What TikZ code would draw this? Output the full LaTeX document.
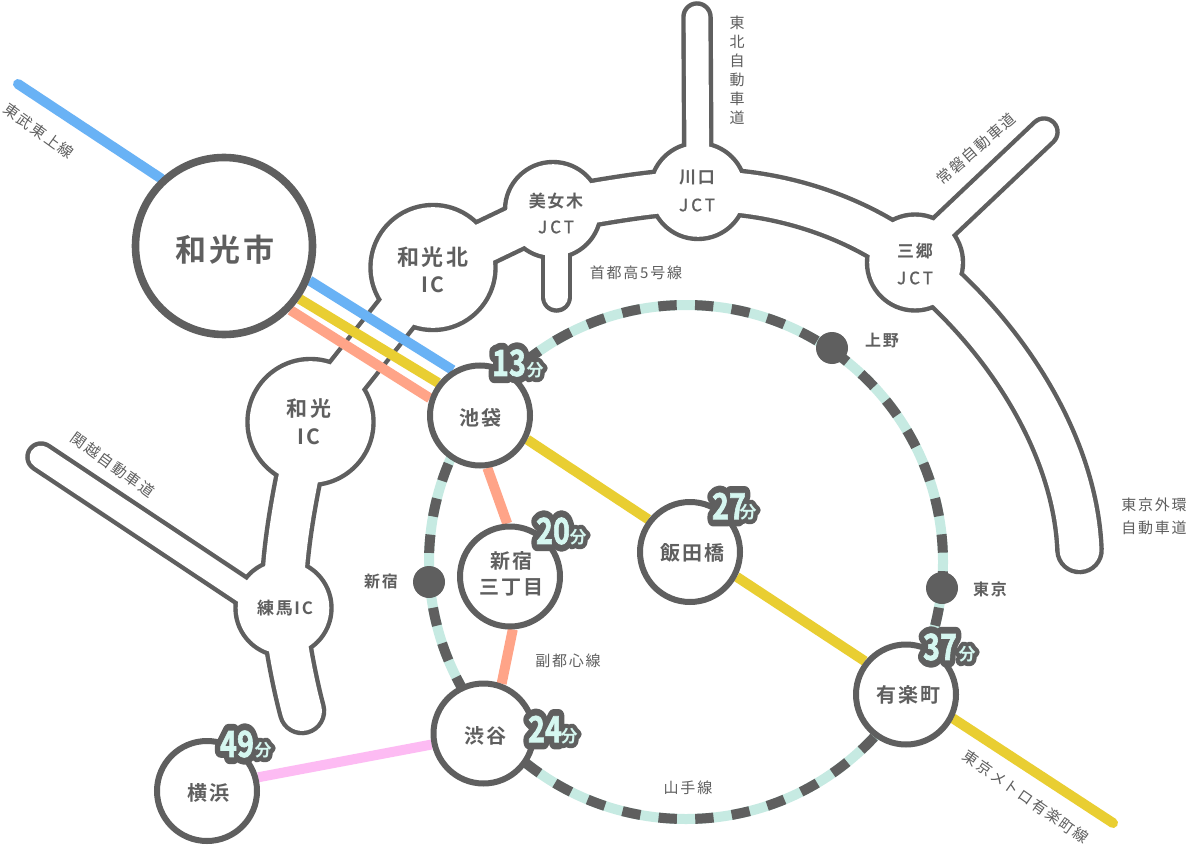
\documentclass[tikz,border=0pt]{standalone}
\usepackage{graphicx}
\usepackage{fontspec}
\setmainfont{Noto Sans CJK JP}
\newfontfamily\jpb[LetterSpace=10]{Noto Sans CJK JP Bold}
\newfontfamily\jpr[LetterSpace=12]{Noto Sans CJK JP}
\newfontfamily\jct[LetterSpace=18,FakeBold=1]{Noto Sans CJK JP}
\newfontfamily\digf[FakeBold=2]{Noto Sans CJK JP Bold}
\newfontfamily\digo[FakeBold=40]{Noto Sans CJK JP Bold}
\newfontfamily\bunf{Noto Sans CJK JP Bold}
\newfontfamily\buno[FakeBold=52]{Noto Sans CJK JP Bold}
\definecolor{dk}{HTML}{5F5F5F}
\definecolor{bl}{HTML}{69B2F5}
\definecolor{yl}{HTML}{E9CE32}
\definecolor{og}{HTML}{FFA488}
\definecolor{pk}{HTML}{FDBBF3}
\definecolor{lt}{HTML}{C6EAE2}
\definecolor{bd}{HTML}{D5F7F0}
\pgfdeclarelayer{roaddark}\pgfdeclarelayer{roadwhite}\pgfdeclarelayer{rail}
\pgfsetlayers{roaddark,roadwhite,rail,main}
\tikzset{
  stn/.style={circle,draw=dk,line width=6pt,fill=white,minimum size=100pt,inner sep=0pt},
  stnbig/.style={circle,draw=dk,line width=7.6pt,fill=white,minimum size=177pt,inner sep=0pt},
  dot/.style={circle,fill=dk,minimum size=32pt,inner sep=0pt},
  jctdisc/.style={circle,fill=white,inner sep=0pt},
  wtxt/.style={text=dk,inner sep=0pt,font=\jpb},
  lab/.style={text=dk,inner sep=0pt,font=\jpr\fontsize{15}{19}\selectfont},
  railline/.style={line width=10pt},
  rdo/.style={draw=dk,line width=48.6pt,line cap=round,line join=round},
  rdi/.style={draw=white,line width=39.8pt,line cap=round,line join=round},
  rso/.style={draw=dk,line width=31.5pt,line cap=round},
  rsi/.style={draw=white,line width=22.7pt,line cap=round},
}
\newcommand{\fs}[1]{\fontsize{#1}{#1}\selectfont}
\newcommand{\badge}[7]{%
  \node[text=dk,inner sep=0pt] (#1o) at (#2,#3) {\digo\fs{36}\pgfsetroundjoin\scalebox{.8}[1]{#6}};
  \node[text=dk,inner sep=0pt] (#1p) at (#4,#5) {\buno\fs{17}\pgfsetroundjoin #7};
  \node[text=bd,inner sep=0pt] (#1t) at (#2,#3) {\digf\fs{36}\scalebox{.8}[1]{#6}};
  \node[text=bd,inner sep=0pt] (#1u) at (#4,#5) {\bunf\fs{17}#7};
}
\begin{document}
\begin{tikzpicture}[x=1pt,y=-1pt]
\useasboundingbox (0,0) rectangle (1188,845);
\begin{pgfonlayer}{roaddark}
\fill[white] (0,0) rectangle (1188,845);
\end{pgfonlayer}
\begin{pgfonlayer}{roadwhite}
\node[jctdisc,minimum size=120.6pt] (wakokita) at (433,267.5) {};
\node[jctdisc,minimum size=91.6pt] (bijogi) at (553,210) {};
\node[jctdisc,minimum size=91.6pt] (kawaguchi) at (698,191) {};
\node[jctdisc,minimum size=91.6pt] (misato) at (915,262.5) {};
\node[jctdisc,minimum size=121.6pt] (wako) at (310.5,422) {};
\node[jctdisc,minimum size=91.6pt] (nerima) at (283.5,608) {};
\coordinate (tohokuend) at (697,17);
\coordinate (joban) at (1044,132);
\coordinate (jobanst) at (913,256);
\coordinate (gaikan) at (1079.5,550);
\coordinate (shutoend) at (556.5,297);
\coordinate (shutost) at (556.5,212);
\coordinate (kanetsu) at (41,457);
\coordinate (kanetsust) at (283,618);
\coordinate (nerimaend) at (302,711);
\path[rdi] (wako.center) -- (wakokita.center) -- (bijogi.center)
  .. controls (600,202) and (650,192) .. (kawaguchi.center)
  .. controls (790,190) and (870,225) .. (misato.center)
  .. controls (1000,330) and (1075,440) .. (gaikan);
\path[rdi] (wako.center) .. controls (295,490) and (283,550) .. (nerima.center)
  .. controls (286,640) and (295,685) .. (nerimaend);
\path[rsi] (kawaguchi.center) -- (tohokuend);
\path[rsi] (shutost) -- (shutoend);
\path[rsi] (jobanst) -- (joban);
\path[rsi] (kanetsust) -- (kanetsu);
\end{pgfonlayer}
\begin{pgfonlayer}{roaddark}
\foreach \n/\r in {wakokita/64.7,bijogi/50.2,kawaguchi/50.2,misato/50.2,wako/65.2,nerima/50.2}{
  \fill[dk] (\n.center) circle (\r pt);
}
\path[rdo] (wako.center) -- (wakokita.center) -- (bijogi.center)
  .. controls (600,202) and (650,192) .. (kawaguchi.center)
  .. controls (790,190) and (870,225) .. (misato.center)
  .. controls (1000,330) and (1075,440) .. (gaikan);
\path[rdo] (wako.center) .. controls (295,490) and (283,550) .. (nerima.center)
  .. controls (286,640) and (295,685) .. (nerimaend);
\path[rso] (kawaguchi.center) -- (tohokuend);
\path[rso] (shutost) -- (shutoend);
\path[rso] (jobanst) -- (joban);
\path[rso] (kanetsust) -- (kanetsu);
\end{pgfonlayer}

\node[stnbig] (wakoshi) at (224,246) {};
\node[stn] (ikebukuro) at (480,415.5) {};
\node[stn] (shinjuku3) at (510,576.5) {};
\node[stn] (iidabashi) at (690,552) {};
\node[stn] (shibuya) at (483.5,733.5) {};
\node[stn] (yurakucho) at (906,694.5) {};
\node[stn] (yokohama) at (207,791) {};
\coordinate (ringc) at (686,562);
\coordinate (tobuend) at (18,84);
\coordinate (yuend) at (1113,823);

\begin{pgfonlayer}{rail}
\draw[bl,railline,line cap=round] (tobuend) -- (wakoshi.133);
\draw[bl,railline] (wakoshi.-22) -- (ikebukuro.121);
\draw[yl,railline] (wakoshi.-35) -- (ikebukuro.142);
\draw[og,railline] (wakoshi.-44) -- (ikebukuro.161);
\draw[yl,railline] (ikebukuro.-27.5) -- (iidabashi.142);
\draw[yl,railline] (iidabashi.-28) -- (yurakucho.141);
\draw[yl,railline,line cap=round] (yurakucho.-27) -- (yuend);
\draw[og,railline] (ikebukuro.-82) -- (shinjuku3.93);
\draw[og,railline] (shinjuku3.-87) -- (shibuya.70);
\draw[pk,railline] (yokohama.15) -- (shibuya.192.6);
\draw[lt,line width=10pt] (ringc) circle (257);
\draw[dk,line width=10pt,dash pattern=on 18.35pt off 18.35pt,dash phase=27.525pt] (ringc) circle (257);
\end{pgfonlayer}

\node[dot] (ueno) at (832,348) {};
\node[dot] (shinjuku) at (429,582) {};
\node[dot] (tokyo) at (942,588) {};

\node[wtxt] (t1) at (225,250) {\fs{31}和光市};
\node[wtxt] (t2) at (480,418) {\fs{20}池袋};
\node[wtxt] (t3) at (511,561) {\fs{20}新宿};
\node[wtxt] (t4) at (511,587) {\fs{20}三丁目};
\node[wtxt] (t5) at (692,553) {\fs{20}飯田橋};
\node[wtxt] (t6) at (485,736) {\fs{20}渋谷};
\node[wtxt] (t7) at (908,695) {\fs{20}有楽町};
\node[wtxt] (t8) at (208,793) {\fs{20}横浜};
\node[wtxt] (r1) at (433,257) {\fs{22}和光北};
\node[wtxt] (r2) at (433,285) {\fs{21}IC};
\node[wtxt] (r3) at (556,201) {\fs{17}美女木};
\node[wtxt] (r4) at (556,227) {\jct\fs{17}JCT};
\node[wtxt] (r5) at (697,178) {\fs{17}川口};
\node[wtxt] (r6) at (697,205) {\jct\fs{17}JCT};
\node[wtxt] (r7) at (915,251) {\fs{17}三郷};
\node[wtxt] (r8) at (915,278) {\jct\fs{17}JCT};
\node[wtxt] (r9) at (309,409) {\fs{21}和光};
\node[wtxt] (r10) at (309,437) {\fs{21}IC};
\node[wtxt] (r11) at (285,608) {\fs{17}練馬IC};
\node[wtxt] (d1) at (882,341) {\fs{16}上野};
\node[wtxt] (d2) at (381,581) {\fs{16}新宿};
\node[wtxt] (d3) at (990,589) {\fs{16}東京};
\node[lab] (l1) at (688,788) {山手線};
\node[lab] (l2) at (568,661) {副都心線};
\node[lab] (l3) at (636,273) {首都高5号線};
\node[lab,align=center,font=\jpr\fontsize{15}{23}\selectfont] (l4) at (1154,516) {東京外環\\自動車道};
\node[lab,align=center] (l5) at (737,70) {東\\北\\自\\動\\車\\道};
\node[lab,rotate=41] (l6) at (976,149) {常磐自動車道};
\node[lab,rotate=-36] (l7) at (113,465) {関越自動車道};
\node[lab,rotate=-36] (l8) at (39,131) {東武東上線};
\node[lab,rotate=-35] (l9) at (1026,797) {東京メトロ有楽町線};
\badge{b13}{509}{363}{535}{370}{13}{分}
\badge{b24}{545}{729}{569}{736}{24}{分}
\badge{b20}{553}{531}{578}{537}{20}{分}
\badge{b27}{729}{506}{748}{512}{27}{分}
\badge{b37}{940}{647}{967}{654}{37}{分}
\badge{b49}{237}{744}{263}{750}{49}{分}
\end{tikzpicture}
\end{document}
